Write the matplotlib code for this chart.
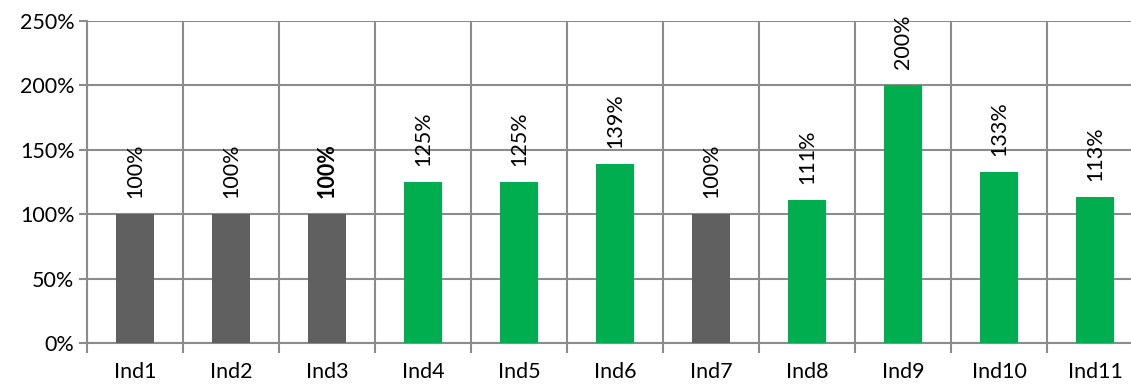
import matplotlib.pyplot as plt
import numpy as np
from matplotlib.ticker import FixedLocator, PercentFormatter

categories = ["Ind1", "Ind2", "Ind3", "Ind4", "Ind5", "Ind6", "Ind7", "Ind8", "Ind9", "Ind10", "Ind11"]
values = [100, 100, 100, 125, 125, 139, 100, 111, 200, 133, 113]
bold_labels = ["Ind3"]

GREY = "#606060"
GREEN = "#00ad4f"
GRID = "#8c8c8c"
FONT_SIZE = 15.5

plt.rcParams["font.family"] = ["Lato", "DejaVu Sans"]

fig = plt.figure(figsize=(11.31, 3.85), dpi=100)
# category slots are 96 px wide; the last one runs past the right edge
ax = fig.add_axes([87 / 1131, 1 - 343 / 385, 1056 / 1131, 322 / 385])

x = np.arange(len(categories))
colors = [GREY if v == 100 else GREEN for v in values]
ax.bar(x, values, width=0.4, color=colors, zorder=3)

for xi, v, name in zip(x, values, categories):
    ax.annotate(
        f"{v}%",
        xy=(xi, v),
        xytext=(0, 16),
        textcoords="offset pixels",
        rotation=90,
        ha="center",
        va="bottom",
        fontsize=FONT_SIZE,
        fontweight="bold" if name in bold_labels else "normal",
        color="black",
    )

ax.set_xlim(-0.5, len(categories) - 0.5)
ax.set_ylim(0, 250)
ax.yaxis.set_major_locator(FixedLocator([0, 50, 100, 150, 200, 250]))
ax.yaxis.set_major_formatter(PercentFormatter(decimals=0))

ax.set_xticks(x)
ax.set_xticklabels(categories)
ax.xaxis.set_minor_locator(FixedLocator(np.arange(-0.5, len(categories), 1.0)))
ax.tick_params(axis="x", which="major", length=0, pad=14, labelsize=FONT_SIZE)
ax.tick_params(axis="x", which="minor", length=7, width=1.5, color=GRID)
ax.tick_params(axis="y", length=6, width=1.5, color=GRID, labelsize=FONT_SIZE, pad=3)

ax.grid(axis="y", which="major", color=GRID, linewidth=1.5, zorder=0)
ax.grid(axis="x", which="minor", color=GRID, linewidth=1.5, zorder=0)

for side in ("top", "right"):
    ax.spines[side].set_visible(False)
for side in ("left", "bottom"):
    ax.spines[side].set_color(GRID)
    ax.spines[side].set_linewidth(1.5)

fig.savefig("out.png", dpi=100)
